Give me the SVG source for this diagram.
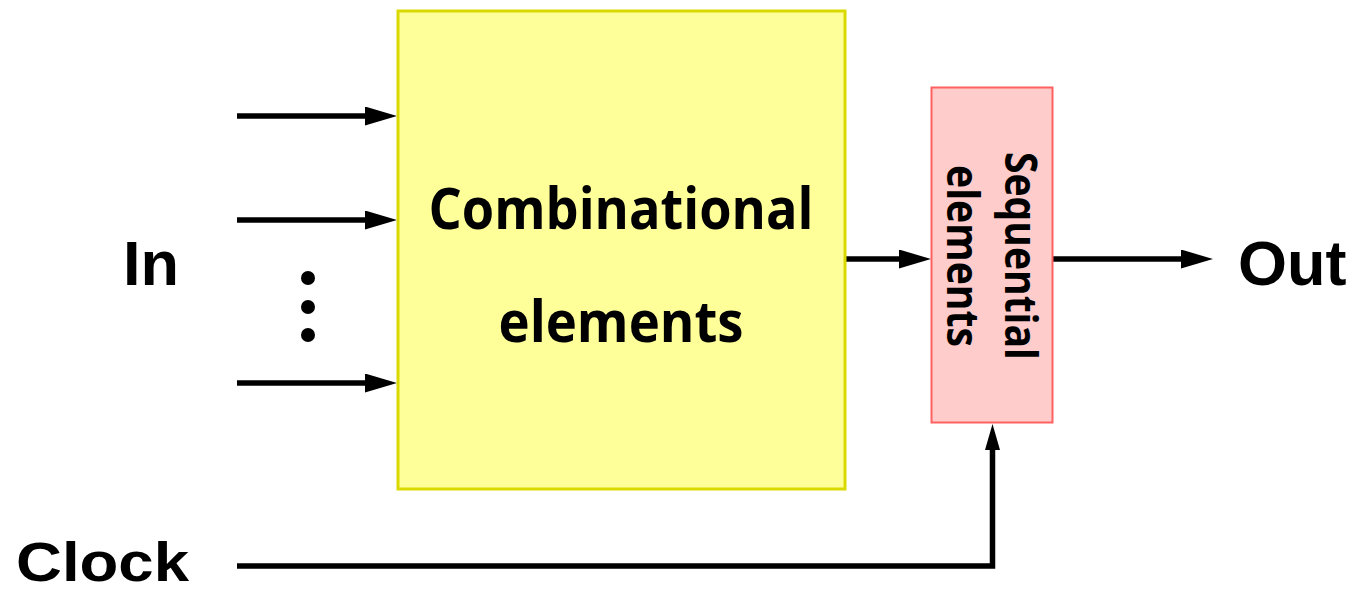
<svg xmlns="http://www.w3.org/2000/svg" width="1355" height="591" viewBox="0 0 1355 591">
  <style>
    .wire { fill: none; stroke: #000; stroke-width: 5.5; }
    .lbl { font-family: "Liberation Sans", Arial, sans-serif; font-weight: bold; fill: #000; }
    .box { font-family: "Open Sans", "Noto Sans", sans-serif; font-weight: bold; fill: #000; text-anchor: middle; }
  </style>
  <defs>
    <marker id="ah" markerUnits="userSpaceOnUse" markerWidth="33" markerHeight="20" refX="0" refY="9.5" orient="auto" viewBox="0 0 33 20">
      <path d="M0,0 L32,9.5 L0,19 Z" fill="#000"/>
    </marker>
    <marker id="ahs" markerUnits="userSpaceOnUse" markerWidth="27" markerHeight="16" refX="0" refY="7.5" orient="auto" viewBox="0 0 27 16">
      <path d="M0,0 L26,7.5 L0,15 Z" fill="#000"/>
    </marker>
  </defs>
  <rect width="1355" height="591" fill="#fff"/>

  <g id="connectors">
    <path class="wire" d="M237,116 H365" marker-end="url(#ah)"/>
    <path class="wire" d="M237,220 H365" marker-end="url(#ah)"/>
    <path class="wire" d="M237,383 H365" marker-end="url(#ah)"/>
    <path class="wire" d="M846,259 H899" marker-end="url(#ah)"/>
    <path class="wire" d="M1053,259 H1181" marker-end="url(#ah)"/>
    <path class="wire" d="M237,566 H992.5 V450" marker-end="url(#ahs)"/>
  </g>

  <g id="dots">
    <circle cx="308" cy="278" r="7" fill="#000"/>
    <circle cx="308" cy="307" r="7" fill="#000"/>
    <circle cx="308" cy="335" r="7" fill="#000"/>
  </g>

  <g id="combinational">
    <rect x="398" y="11" width="447" height="478" fill="#ffff99" stroke="#d9d900" stroke-width="3"/>
    <text class="box" x="621" y="229" font-size="58" textLength="385" lengthAdjust="spacingAndGlyphs">Combinational</text>
    <text class="box" x="621" y="342" font-size="58" textLength="245" lengthAdjust="spacingAndGlyphs">elements</text>
  </g>

  <g id="sequential">
    <rect x="931.5" y="87.5" width="121" height="335" fill="#ffcccc" stroke="#ff6060" stroke-width="2"/>
    <text class="box" transform="translate(1005,256) rotate(90)" font-size="44" textLength="208" lengthAdjust="spacingAndGlyphs">Sequential</text>
    <text class="box" transform="translate(947,256) rotate(90)" font-size="44" textLength="182" lengthAdjust="spacingAndGlyphs">elements</text>
  </g>

  <g id="in">
    <text class="lbl" x="123" y="285" font-size="63">In</text>
  </g>
  <g id="out">
    <text class="lbl" x="1238" y="285" font-size="63">Out</text>
  </g>
  <g id="clock">
    <text class="lbl" x="16" y="581" font-size="56" textLength="173" lengthAdjust="spacingAndGlyphs">Clock</text>
  </g>
</svg>
